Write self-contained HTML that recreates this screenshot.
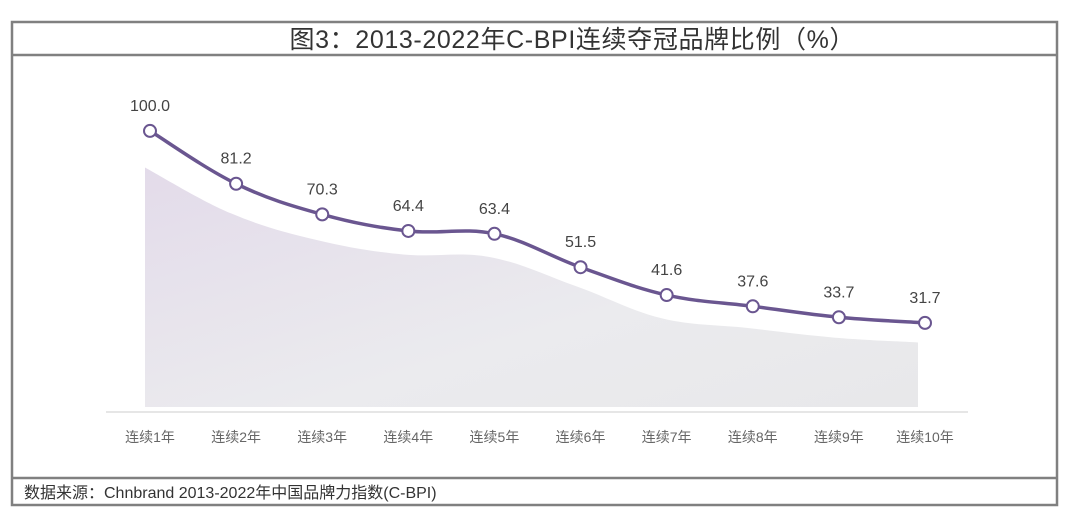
<!DOCTYPE html>
<html><head><meta charset="utf-8"><style>
body{margin:0;background:#fff;width:1080px;height:527px;overflow:hidden}
svg text{font-family:"Liberation Sans","Noto Sans CJK SC",sans-serif}
</style></head><body>
<svg width="1080" height="527">
<defs><linearGradient id="g" x1="0" y1="0" x2="1" y2="1">
<stop offset="0" stop-color="#e3dbea"/><stop offset="0.6" stop-color="#ebebee"/><stop offset="1" stop-color="#e8e8ea"/></linearGradient></defs>
<rect x="12" y="22" width="1045" height="483" fill="#fff" stroke="#808080" stroke-width="2.5"/>
<line x1="12" y1="55" x2="1057" y2="55" stroke="#808080" stroke-width="2.5"/>
<line x1="12" y1="478" x2="1057" y2="478" stroke="#808080" stroke-width="2.5"/>
<text x="572" y="48" text-anchor="middle" font-size="25" fill="#333" textLength="565">图3：2013-2022年C-BPI连续夺冠品牌比例（%）</text>
<text x="24" y="498" font-size="16" fill="#333">数据来源：Chnbrand 2013-2022年中国品牌力指数(C-BPI)</text>
<line x1="106" y1="412" x2="968" y2="412" stroke="#ddd" stroke-width="1.5"/>
<g id="plot"></g>
</svg>
<script>
const categories=["连续1年","连续2年","连续3年","连续4年","连续5年","连续6年","连续7年","连续8年","连续9年","连续10年"];
const values=[100.0,81.2,70.3,64.4,63.4,51.5,41.6,37.6,33.7,31.7];
const labels=["100.0","81.2","70.3","64.4","63.4","51.5","41.6","37.6","33.7","31.7"];
const NS="http://www.w3.org/2000/svg";
const g=document.getElementById('plot');
function x(i){return 150+i*(925-150)/(categories.length-1);}
function y(v){return 412-v*2.811;}
function mk(t,a){const e=document.createElementNS(NS,t);for(const k in a)e.setAttribute(k,a[k]);g.appendChild(e);return e;}
function smooth(pts){let d="M"+pts[0][0]+","+pts[0][1];for(let i=0;i<pts.length-1;i++){const p0=pts[i-1]||pts[i],p1=pts[i],p2=pts[i+1],p3=pts[i+2]||p2;const t=0.18;d+=" C"+(p1[0]+(p2[0]-p0[0])*t)+","+(p1[1]+(p2[1]-p0[1])*t)+" "+(p2[0]-(p3[0]-p1[0])*t)+","+(p2[1]-(p3[1]-p1[1])*t)+" "+p2[0]+","+p2[1];}return d;}
const apts=values.map((v,i)=>[x(i)-5+(i==values.length-1?-2:0),y(v*0.87)-(i>5?-8:0)]);
const area=mk('path',{d:smooth(apts)+" L"+apts[apts.length-1][0]+",407 L"+apts[0][0]+",407 Z",fill:"url(#g)"});


const pts=values.map((v,i)=>[x(i),y(v)]);
const line=mk('path',{d:smooth(pts),fill:"none",stroke:"#6a5690","stroke-width":3.5});


values.forEach((v,i)=>{
 const c=mk('circle',{cx:x(i),cy:y(v),r:6,fill:"#fff",stroke:"#6a5690","stroke-width":2});
 
 
 const t=mk('text',{x:x(i),y:y(v)-20,"text-anchor":"middle","font-size":16,fill:"#444"});
 t.textContent=labels[i];
 
 
 const c2=mk('text',{x:x(i),y:442,"text-anchor":"middle","font-size":14,fill:"#666"});
 c2.textContent=categories[i];
 
 
});
</script>
</body></html>
